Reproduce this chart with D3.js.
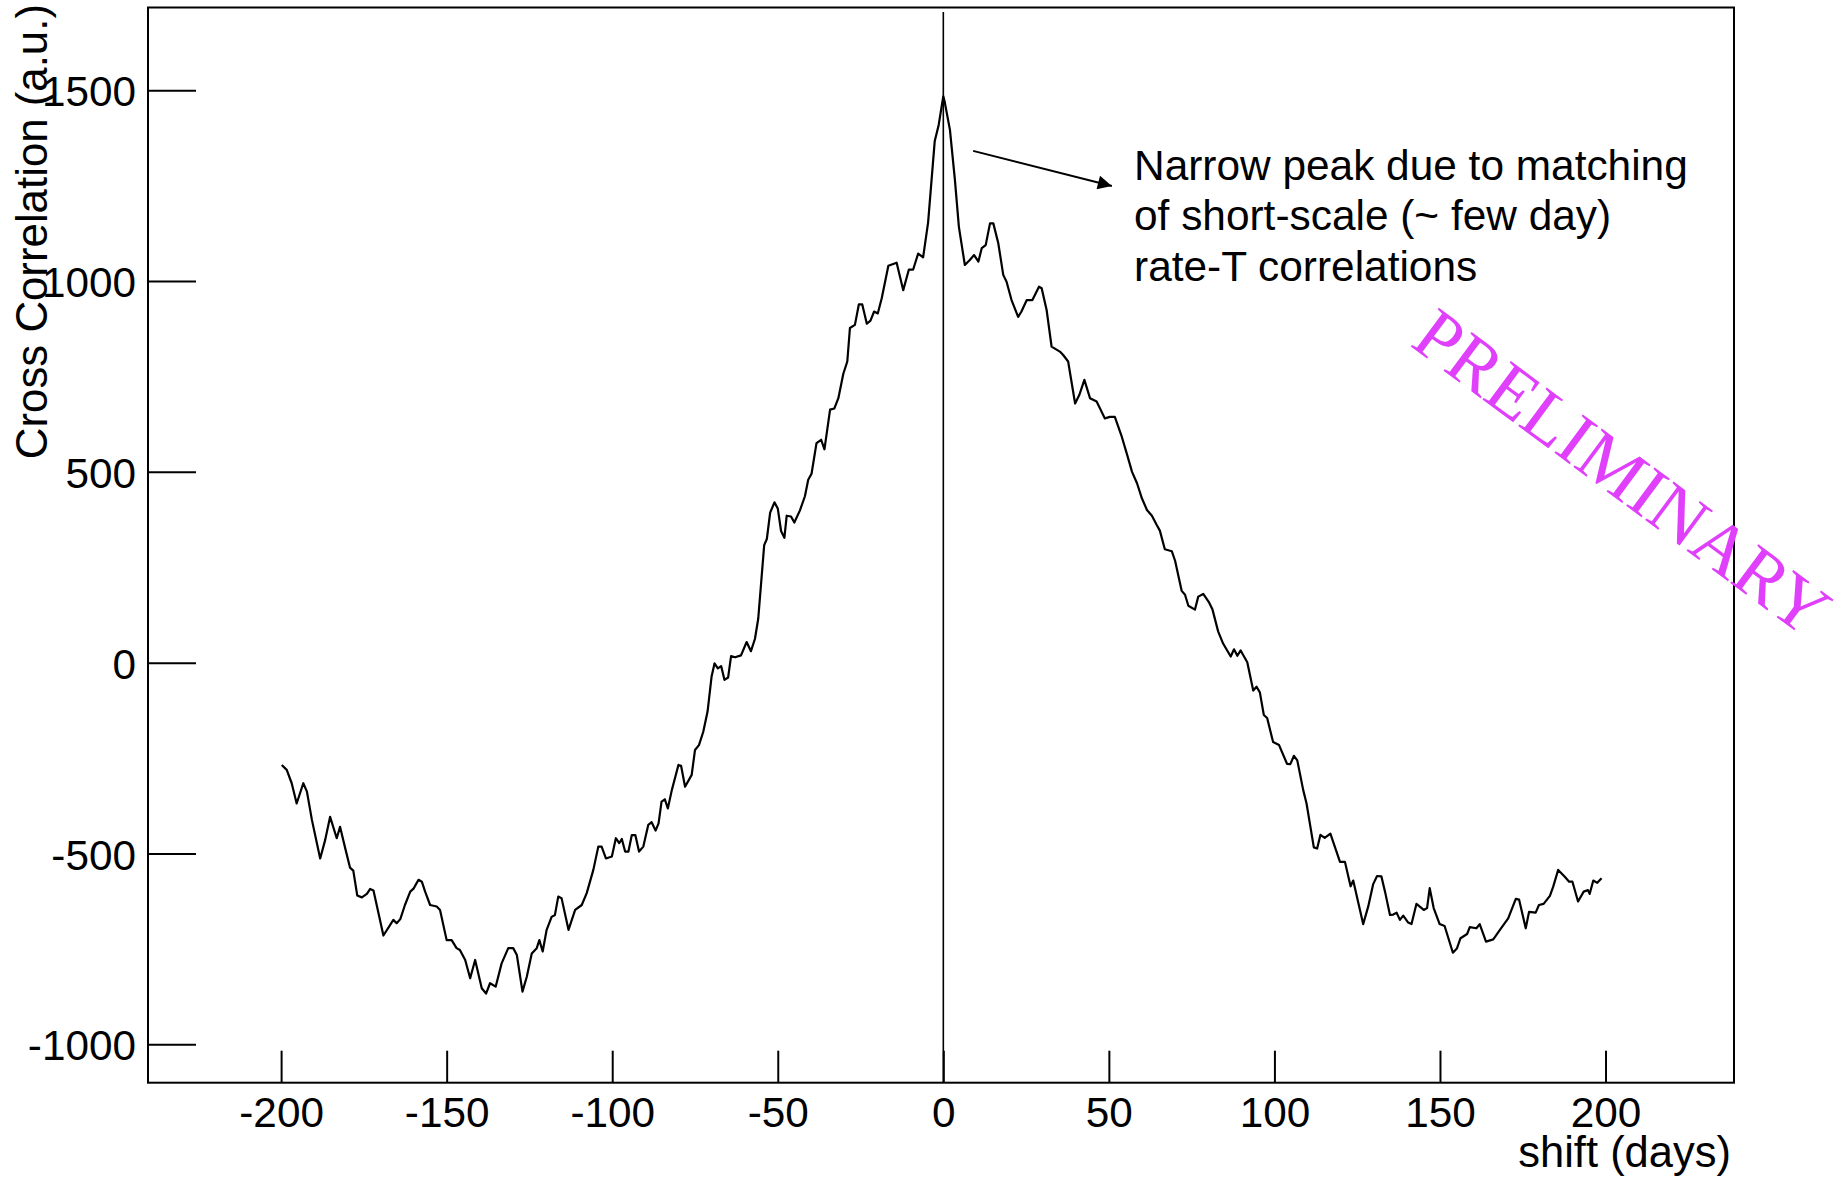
<!DOCTYPE html>
<html>
<head>
<meta charset="utf-8">
<script src="https://cdn.jsdelivr.net/npm/d3@7"></script>
<style>
  html, body { margin: 0; padding: 0; background: #ffffff; }
  svg { display: block; }
  text { font-family: "Liberation Sans", Arial, Helvetica, sans-serif; fill: #000; }
</style>
</head>
<body>
<svg id="chart" width="1843" height="1178"></svg>
<script>
// ---- data ----
const shiftDays = [
  -199.8,-198.3,-196.8,-195.3,-193.3,-192.2,-190.7,-188.2,-186.7,-185.2,-183.2,-182.2,-180.7,-179.2,-178.2,-177,-175.6,-174.1,-173.1,-172.1,
  -169.1,-166.1,-165.1,-164,-162.6,-161,-160,-158.5,-157.5,-156.5,-155,-153,-152,-150,-148.5,-147,-146,-144.4,-142.9,-141.4,
  -139.4,-138.1,-136.9,-135.2,-133.4,-131.4,-129.9,-128.8,-127.1,-125.8,-124.3,-122.8,-122,-121,-119.8,-118.3,-117.3,-116.3,-115.3,-113.2,
  -111.2,-109.2,-107.7,-105.7,-104.2,-103.2,-101.9,-100.1,-98.9,-97.9,-97.1,-96.1,-95.1,-94.1,-93,-91.9,-90.6,-89.1,-88.1,-86.9,
  -86,-85.1,-84.1,-83.2,-82,-80,-79.2,-78,-76,-75,-73.8,-72.5,-71.2,-70,-69.1,-68.1,-67.1,-66.1,-65,-64.1,
  -62.9,-61.1,-59.4,-58.1,-56.9,-55.9,-54.9,-54.1,-53.3,-52.3,-51,-50,-49,-48,-47.3,-46,-45,-43.3,-41.8,-40.8,
  -39.8,-38.3,-36.9,-35.9,-34.2,-32.9,-31.7,-30.2,-29,-28.2,-26.7,-25.5,-24.5,-23.1,-22,-20.9,-19.8,-18.6,-16.6,-14.1,
  -12.1,-10.4,-9.1,-7.6,-6.1,-4.6,-2.6,-1.4,0,0.4,2,3.5,4.7,6.5,8,9.3,10.6,11.6,12.8,14.1,
  15.1,16.6,18.1,19.1,20.6,22.6,23.6,25.2,26.9,28.9,29.7,31.2,32.7,35.2,36.2,37.7,39.8,41.1,42.6,44.3,
  46.3,48.8,50.3,51.8,53.9,55.5,57,58.5,60,61.5,63,64.5,65.4,66.9,69,70,72,73,74,76,
  77,78.5,80.3,81.3,83,84.5,86.8,87.8,88.8,89.8,91.8,93.6,94.6,95.6,96.8,97.8,99.6,101.4,103.8,104.8,
  105.9,106.9,108.7,109.7,111.9,112.9,113.9,115.2,116.9,119.8,121.3,123,123.8,126.8,128.3,129.8,131,132.3,133.4,134.9,
  135.9,136.9,137.9,138.9,140.4,141.4,142.9,145.1,146.1,146.9,148.1,149.9,151.4,153.9,155.1,156.2,158.2,159,161,162,
  163.9,166.1,168.1,170.6,172.9,173.9,175.9,176.9,178.9,179.9,181.3,183.2,184.2,185.7,187.7,189,190,191.7,193.4,194.7,
  195.2,196.3,197.5,198.8
];
const crossCorrelation = [
  -268,-281,-316,-369,-316,-338,-412,-513,-465,-404,-460,-430,-484,-537,-545,-610,-615,-606,-593,-597,
  -715,-674,-683,-672,-635,-600,-592,-569,-574,-600,-635,-639,-648,-727,-727,-748,-753,-779,-827,-779,
  -853,-867,-840,-849,-788,-748,-748,-766,-862,-823,-762,-748,-727,-757,-700,-666,-661,-613,-617,-700,
  -648,-635,-604,-543,-482,-482,-513,-508,-460,-473,-462,-495,-495,-452,-452,-495,-482,-425,-418,-440,
  -421,-364,-358,-382,-334,-268,-270,-325,-294,-229,-216,-181,-128,-37,-2,-15,-9,-45,-39,17,
  14,19,54,30,62,115,222,308,324,393,420,404,345,327,385,383,367,399,436,479,
  495,575,584,559,663,666,693,757,789,877,885,939,939,888,896,920,915,955,1040,1048,
  976,1030,1030,1072,1062,1153,1366,1409,1484,1470,1396,1265,1142,1042,1055,1068,1051,1086,1094,1151,
  1151,1099,1016,998,950,906,920,950,950,985,981,924,828,815,806,789,679,702,741,693,
  684,640,644,644,592,545,500,470,430,400,385,360,346,297,292,267,188,178,149,139,
  173,180,157,139,82,50,16,35,18,32,1,-73,-63,-78,-137,-145,-208,-216,-265,-266,
  -244,-256,-334,-369,-484,-487,-451,-459,-448,-522,-522,-586,-571,-685,-640,-581,-559,-560,-600,-661,
  -660,-655,-674,-663,-681,-685,-632,-648,-643,-591,-643,-685,-690,-760,-749,-722,-711,-693,-696,-685,
  -731,-725,-700,-670,-619,-621,-696,-653,-655,-635,-632,-611,-587,-543,-561,-574,-574,-626,-600,-596,
  -606,-571,-577,-565
];
const xMajorTicks = [-200, -150, -100, -50, 0, 50, 100, 150, 200];
const xMinorTicks = d3.range(-230, 231, 10);
const yMajorTicks = [-1000, -500, 0, 500, 1000, 1500];
const yMinorTicks = d3.range(-1000, 1701, 100);
const xTitle = "shift (days)";
const yTitle = "Cross Correlation (a.u.)";
const noteLines = ["Narrow peak due to matching", "of short-scale (~ few day)", "rate-T correlations"];
const noteAnchor = [57.6, 1265];          // day, value of first text baseline
const arrowFrom = [9.0, 1341];
const arrowTo = [50.9, 1249];
const zeroLine = [[0, 1705], [0, -1100.6]];
const watermark = "PRELIMINARY";
const watermarkAnchor = [140.6, 832];

// ---- layout ----
const svg = d3.select("#chart");
const W = 1843, H = 1178;
svg.append("rect").attr("width", W).attr("height", H).attr("fill", "#fff");

const L = 148, R = 1734, T = 7.5, B = 1082.7;
const x = d3.scaleLinear().domain([-240.2, 238.8]).range([L, R]);
const y = d3.scaleLinear().domain([-1100.6, 1716.6]).range([B, T]);
const FS = 42.3;
const plain = d => String(d);   // hyphen-minus, like the reference

// x axis ticks (inside)
const gx = svg.append("g").attr("transform", `translate(0,${B})`);
gx.call(d3.axisBottom(x).tickValues(xMinorTicks).tickSize(-16).tickFormat(""));
gx.call(d3.axisBottom(x).tickValues(xMajorTicks).tickSize(-32).tickPadding(14).tickFormat(plain));
gx.selectAll(".domain").remove();
gx.selectAll("line").attr("stroke", "#000").attr("stroke-width", 2);
gx.selectAll("text").attr("font-size", FS).attr("font-family", '"Liberation Sans", Arial, sans-serif');

// y axis ticks (inside)
const gy = svg.append("g").attr("transform", `translate(${L},0)`);
gy.call(d3.axisLeft(y).tickValues(yMinorTicks).tickSize(-23).tickFormat(""));
gy.call(d3.axisLeft(y).tickValues(yMajorTicks).tickSize(-48).tickPadding(12).tickFormat(plain));
gy.selectAll(".domain").remove();
gy.selectAll("line").attr("stroke", "#000").attr("stroke-width", 2);
gy.selectAll("text").attr("font-size", FS).attr("dy", "0.37em").attr("font-family", '"Liberation Sans", Arial, sans-serif');

// frame
svg.append("rect").attr("x", L).attr("y", T).attr("width", R - L).attr("height", B - T)
  .attr("fill", "none").attr("stroke", "#000").attr("stroke-width", 2);

// zero line
svg.append("line")
  .attr("x1", x(zeroLine[0][0])).attr("y1", y(zeroLine[0][1]))
  .attr("x2", x(zeroLine[1][0])).attr("y2", y(zeroLine[1][1]))
  .attr("stroke", "#000").attr("stroke-width", 1.6);

// curve
const pts = shiftDays.map((d, i) => [d, crossCorrelation[i]]);
svg.append("path").datum(pts)
  .attr("d", d3.line().x(d => x(d[0])).y(d => y(d[1])))
  .attr("fill", "none").attr("stroke", "#000").attr("stroke-width", 2.2)
  .attr("stroke-linejoin", "round");

// axis titles
svg.append("text").attr("x", R - 3).attr("y", 1167).attr("text-anchor", "end")
  .attr("font-size", 43.5).text(xTitle);
svg.append("text").attr("transform", "translate(47,4) rotate(-90)").attr("text-anchor", "end")
  .attr("font-size", 43.8).text(yTitle);

// annotation arrow
const defs = svg.append("defs");
defs.append("marker").attr("id", "ah").attr("viewBox", "0 0 10 10").attr("refX", 10).attr("refY", 5)
  .attr("markerWidth", 18).attr("markerHeight", 14).attr("markerUnits", "userSpaceOnUse").attr("orient", "auto")
  .append("path").attr("d", "M0,0 L10,5 L0,10 Z").attr("fill", "#000");
svg.append("line")
  .attr("x1", x(arrowFrom[0])).attr("y1", y(arrowFrom[1]))
  .attr("x2", x(arrowTo[0])).attr("y2", y(arrowTo[1]))
  .attr("stroke", "#000").attr("stroke-width", 2).attr("marker-end", "url(#ah)");

// annotation text
const note = svg.append("text").attr("x", x(noteAnchor[0])).attr("y", y(noteAnchor[1])).attr("font-size", 42.4);
noteLines.forEach((t, i) => {
  note.append("tspan").attr("x", x(noteAnchor[0])).attr("dy", i === 0 ? 0 : 50.5).text(t);
});

// watermark
svg.append("text")
  .attr("transform", `translate(${x(watermarkAnchor[0])},${y(watermarkAnchor[1])}) rotate(36.5)`)
  .attr("font-family", '"Liberation Serif", "Times New Roman", serif')
  .style("font-family", '"Liberation Serif", "Times New Roman", serif')
  .attr("font-size", 73).style("fill", "#e040fb").text(watermark);
</script>
</body>
</html>
